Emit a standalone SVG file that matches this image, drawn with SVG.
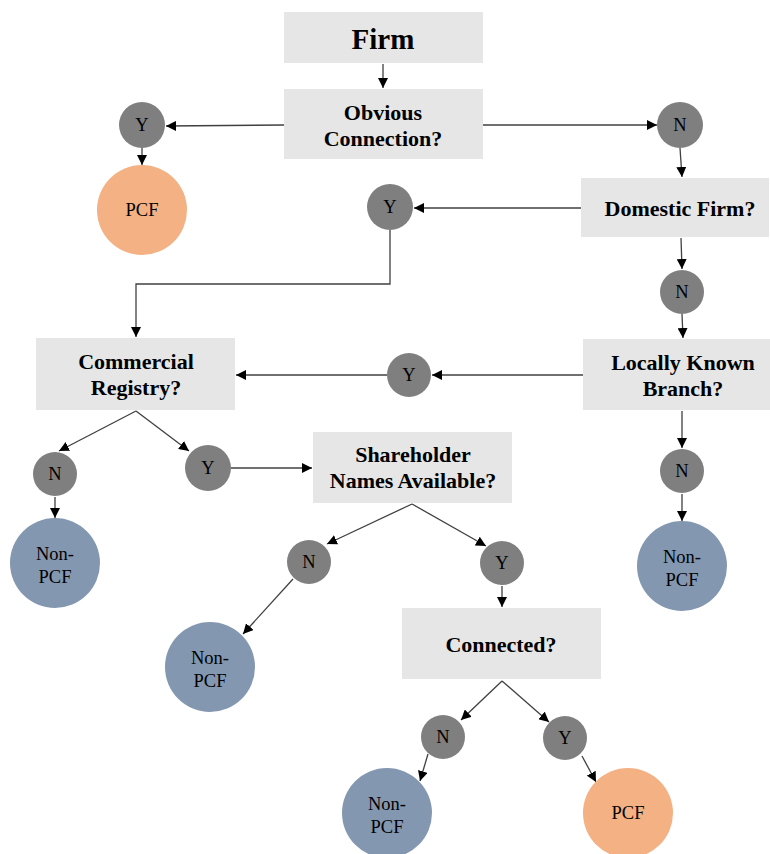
<svg xmlns="http://www.w3.org/2000/svg" width="770" height="854" viewBox="0 0 770 854">
<style>
.box{fill:#e6e6e6}
.bt{font-family:"Liberation Serif","Times New Roman","DejaVu Serif",serif;font-weight:bold;font-size:22px;fill:#000;text-anchor:middle}
.ct{font-family:"Liberation Serif","Times New Roman","DejaVu Serif",serif;font-size:18.5px;fill:#000;text-anchor:middle}
.g{fill:#7f7f7f}
.pcf{fill:#f4b183}
.non{fill:#8497b0}
.ln{stroke:#404040;stroke-width:1.3;fill:none}
</style>
<defs>
<marker id="ah" viewBox="0 0 10 10" refX="10" refY="5" markerWidth="10" markerHeight="10" markerUnits="userSpaceOnUse" orient="auto">
<path d="M0,0 L10,5 L0,10 z" fill="#000"/>
</marker>
</defs>
<rect width="770" height="854" fill="#fff"/>
<g id="connectors">
<line class="ln" x1="383" y1="64" x2="383" y2="88" marker-end="url(#ah)"/>
<line class="ln" x1="284" y1="125" x2="166" y2="126" marker-end="url(#ah)"/>
<line class="ln" x1="142" y1="148" x2="142" y2="165" marker-end="url(#ah)"/>
<line class="ln" x1="483" y1="125" x2="657" y2="125" marker-end="url(#ah)"/>
<line class="ln" x1="680" y1="148" x2="682" y2="177" marker-end="url(#ah)"/>
<line class="ln" x1="581" y1="208" x2="414" y2="208" marker-end="url(#ah)"/>
<polyline class="ln" points="390,230 390,284 136,284 136,337" marker-end="url(#ah)"/>
<line class="ln" x1="681" y1="238" x2="682" y2="269" marker-end="url(#ah)"/>
<line class="ln" x1="682" y1="314" x2="683" y2="338" marker-end="url(#ah)"/>
<line class="ln" x1="583" y1="375" x2="432" y2="375" marker-end="url(#ah)"/>
<line class="ln" x1="387" y1="375" x2="236" y2="375" marker-end="url(#ah)"/>
<line class="ln" x1="682" y1="411" x2="682" y2="448" marker-end="url(#ah)"/>
<line class="ln" x1="682" y1="494" x2="682" y2="521" marker-end="url(#ah)"/>
<line class="ln" x1="136" y1="411" x2="59" y2="451" marker-end="url(#ah)"/>
<line class="ln" x1="136" y1="411" x2="189" y2="451" marker-end="url(#ah)"/>
<line class="ln" x1="55" y1="497" x2="55" y2="518" marker-end="url(#ah)"/>
<line class="ln" x1="231" y1="468" x2="312" y2="468" marker-end="url(#ah)"/>
<line class="ln" x1="412" y1="504" x2="327" y2="544" marker-end="url(#ah)"/>
<line class="ln" x1="412" y1="504" x2="486" y2="546" marker-end="url(#ah)"/>
<line class="ln" x1="502" y1="586" x2="502" y2="607" marker-end="url(#ah)"/>
<line class="ln" x1="293" y1="579" x2="243" y2="634" marker-end="url(#ah)"/>
<line class="ln" x1="502" y1="681" x2="461" y2="720" marker-end="url(#ah)"/>
<line class="ln" x1="502" y1="681" x2="549" y2="722" marker-end="url(#ah)"/>
<line class="ln" x1="428" y1="754" x2="420" y2="781" marker-end="url(#ah)"/>
<line class="ln" x1="582" y1="756" x2="596" y2="782" marker-end="url(#ah)"/>
</g>
<g id="firm"><rect class="box" x="284" y="12" width="199" height="51"/><text class="bt" x="383" y="49" style="font-size:29px">Firm</text></g>
<g id="obvious"><rect class="box" x="284" y="89" width="199" height="70"/><text class="bt" x="383" y="120">Obvious</text><text class="bt" x="383" y="146">Connection?</text></g>
<g id="y1"><circle class="g" cx="142" cy="125" r="23"/><text class="ct" x="142" y="131">Y</text></g>
<g id="pcf1"><circle class="pcf" cx="142" cy="210" r="45"/><text class="ct" x="142" y="216">PCF</text></g>
<g id="n1"><circle class="g" cx="680" cy="125" r="23"/><text class="ct" x="680" y="131">N</text></g>
<g id="domestic"><rect class="box" x="581" y="178" width="188" height="59"/><text class="bt" x="680" y="216">Domestic Firm?</text></g>
<g id="y2"><circle class="g" cx="390" cy="207" r="23"/><text class="ct" x="390" y="213">Y</text></g>
<g id="n2"><circle class="g" cx="682" cy="292" r="22"/><text class="ct" x="682" y="298">N</text></g>
<g id="locally"><rect class="box" x="583" y="339" width="187" height="71"/><text class="bt" x="683" y="370">Locally Known</text><text class="bt" x="683" y="396">Branch?</text></g>
<g id="y3"><circle class="g" cx="409" cy="375" r="22"/><text class="ct" x="409" y="381">Y</text></g>
<g id="n3"><circle class="g" cx="682" cy="471" r="22"/><text class="ct" x="682" y="477">N</text></g>
<g id="nonpcf1"><circle class="non" cx="682" cy="566" r="45"/><text class="ct" x="682" y="563">Non-</text><text class="ct" x="682" y="586">PCF</text></g>
<g id="commercial"><rect class="box" x="36" y="338" width="199" height="72"/><text class="bt" x="136" y="369">Commercial</text><text class="bt" x="136" y="395">Registry?</text></g>
<g id="n4"><circle class="g" cx="55" cy="474" r="22"/><text class="ct" x="55" y="480">N</text></g>
<g id="nonpcf2"><circle class="non" cx="55" cy="563" r="45"/><text class="ct" x="55" y="560">Non-</text><text class="ct" x="55" y="583">PCF</text></g>
<g id="y4"><circle class="g" cx="208" cy="468" r="23"/><text class="ct" x="208" y="474">Y</text></g>
<g id="shareholder"><rect class="box" x="313" y="432" width="199" height="71"/><text class="bt" x="413" y="462">Shareholder</text><text class="bt" x="413" y="488">Names Available?</text></g>
<g id="n5"><circle class="g" cx="309" cy="562" r="22"/><text class="ct" x="309" y="568">N</text></g>
<g id="nonpcf3"><circle class="non" cx="210" cy="667" r="45"/><text class="ct" x="210" y="664">Non-</text><text class="ct" x="210" y="687">PCF</text></g>
<g id="y5"><circle class="g" cx="502" cy="563" r="22"/><text class="ct" x="502" y="569">Y</text></g>
<g id="connected"><rect class="box" x="402" y="608" width="199" height="71"/><text class="bt" x="501" y="652">Connected?</text></g>
<g id="n6"><circle class="g" cx="443" cy="737" r="22"/><text class="ct" x="443" y="743">N</text></g>
<g id="nonpcf4"><circle class="non" cx="387" cy="813" r="45"/><text class="ct" x="387" y="810">Non-</text><text class="ct" x="387" y="833">PCF</text></g>
<g id="y6"><circle class="g" cx="565" cy="738" r="22"/><text class="ct" x="565" y="744">Y</text></g>
<g id="pcf2"><circle class="pcf" cx="628" cy="813" r="45"/><text class="ct" x="628" y="819">PCF</text></g>
</svg>
